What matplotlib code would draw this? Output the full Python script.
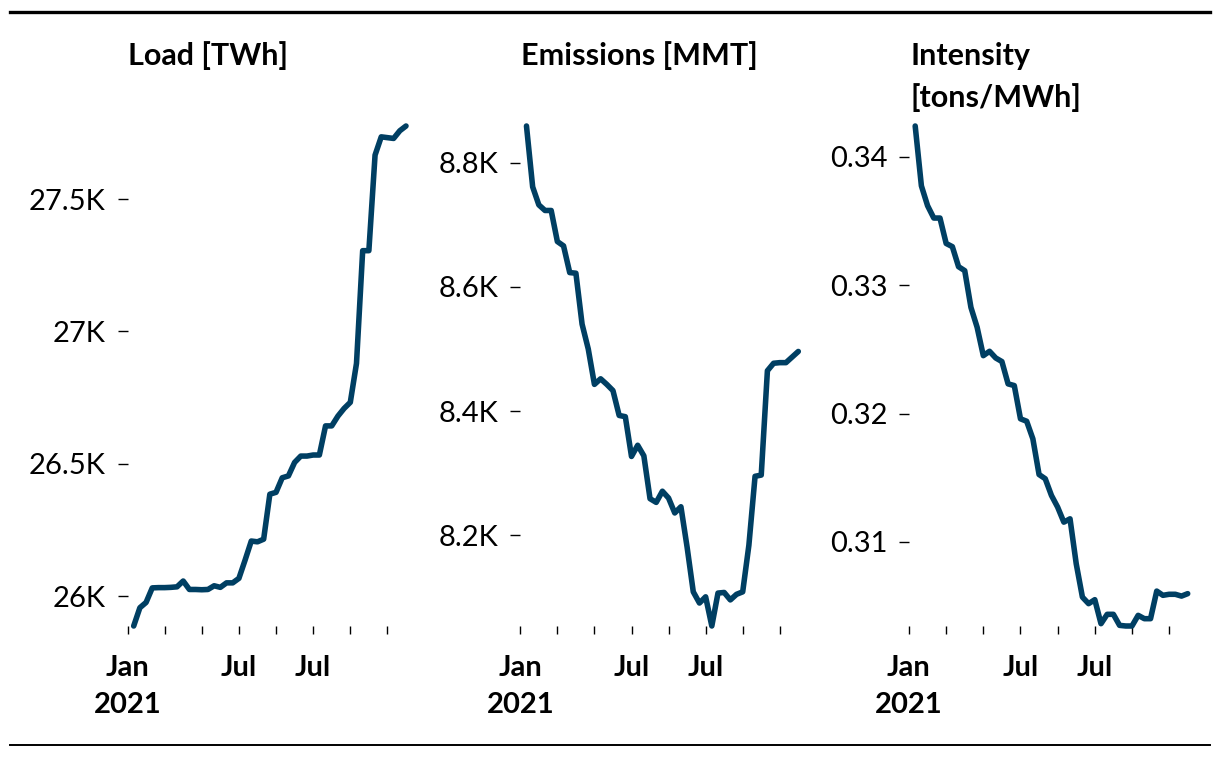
import matplotlib
matplotlib.use("Agg")
import matplotlib.pyplot as plt
from matplotlib.lines import Line2D
from matplotlib.ticker import FixedLocator, FuncFormatter

plt.rcParams['font.family'] = ['Lato', 'DejaVu Sans']

# ---------------- data ----------------
load_twh = [25887, 25956, 25976, 26031, 26032, 26032, 26033, 26035, 26057, 26025,
            26025, 26024, 26025, 26039, 26033, 26050, 26050, 26067, 26136, 26208,
            26205, 26215, 26385, 26392, 26447, 26454, 26505, 26529, 26529, 26533,
            26533, 26643, 26643, 26680, 26709, 26732, 26879, 27305, 27305, 27666,
            27735, 27732, 27729, 27758, 27776]
emissions_mmt = [8859, 8761, 8732, 8723, 8723, 8673, 8666, 8623, 8622, 8540,
                 8500, 8443, 8452, 8443, 8433, 8393, 8391, 8327, 8345, 8328,
                 8259, 8253, 8271, 8260, 8236, 8246, 8181, 8109, 8091, 8101,
                 8054, 8107, 8108, 8096, 8105, 8109, 8184, 8295, 8297, 8465,
                 8477, 8478, 8478, 8487, 8496]
intensity = [0.34240, 0.33774, 0.33619, 0.33523, 0.33523, 0.33325, 0.33300, 0.33144, 0.33113, 0.32827,
             0.32672, 0.32451, 0.32485, 0.32433, 0.32405, 0.32231, 0.32218, 0.31959, 0.31940, 0.31803,
             0.31525, 0.31492, 0.31362, 0.31271, 0.31154, 0.31180, 0.30830, 0.30570, 0.30519, 0.30550,
             0.30363, 0.30436, 0.30436, 0.30350, 0.30345, 0.30345, 0.30428, 0.30402, 0.30402, 0.30617,
             0.30584, 0.30592, 0.30592, 0.30578, 0.30597]
periods = list(range(len(load_twh)))

x_tick_pos = [-1, 5, 11, 17, 23, 29, 35, 41]
x_tick_labels = ["Jan\n2021", "", "", "Jul", "", "Jul", "", ""]

load_ticks = [26000, 26500, 27000, 27500]
emis_ticks = [8200, 8400, 8600, 8800]
int_ticks = [0.31, 0.32, 0.33, 0.34]

titles = [["Load [TWh]"], ["Emissions [MMT]"], ["Intensity", "[tons/MWh]"]]

# ---------------- figure ----------------
W, H = 1220, 758
fig = plt.figure(figsize=(W / 100, H / 100), dpi=100)
LINE_COLOR = "#003f63"
FS = 21
TFS = 22


def k_fmt(v, pos):
    s = f"{v/1000:.1f}".rstrip("0").rstrip(".")
    return s + "K"


def dec_fmt(v, pos):
    return f"{v:.2f}"


panels = [
    (load_twh, 127.5, 406.0, load_ticks, k_fmt),
    (emissions_mmt, 520.3, 798.3, emis_ticks, k_fmt),
    (intensity, 909.0, 1187.7, int_ticks, dec_fmt),
]

top_px, bot_px = 126, 626
for i, (vals, lpx, rpx, yt, fmt) in enumerate(panels):
    ax = fig.add_axes([lpx / W, (H - bot_px) / H, (rpx - lpx) / W, (bot_px - top_px) / H])
    ax.plot(periods, vals, color=LINE_COLOR, lw=4.0, solid_capstyle="round",
            solid_joinstyle="round", clip_on=False)
    ax.set_xlim(-1, len(vals) - 1)
    ax.set_ylim(min(vals), max(vals))
    for sp in ax.spines.values():
        sp.set_visible(False)
    ax.yaxis.set_major_locator(FixedLocator(yt))
    ax.yaxis.set_major_formatter(FuncFormatter(fmt))
    ax.set_xticks(x_tick_pos)
    ax.set_xticklabels(x_tick_labels, fontweight="bold")
    for lab in ax.get_xticklabels():
        lab.set_linespacing(1.5)
    ax.tick_params(axis="y", length=7, width=1, pad=8.6, labelsize=FS, colors="black")
    ax.tick_params(axis="x", length=6, width=1, pad=15, labelsize=FS, colors="black")
    ax.set_facecolor("none")
    # titles
    baselines = [65, 107]
    for j, t in enumerate(titles[i]):
        fig.text((lpx + 1.0) / W, 1 - baselines[j] / H, t, fontsize=TFS, fontweight="bold",
                 ha="left", va="baseline", color="black")

# horizontal rules
fig.add_artist(Line2D([10 / W, 1210 / W], [1 - 12 / H, 1 - 12 / H], color="black", lw=2.4))
fig.add_artist(Line2D([10 / W, 1210 / W], [1 - 745 / H, 1 - 745 / H], color="black", lw=1.4))

fig.savefig("out.png", dpi=100)
